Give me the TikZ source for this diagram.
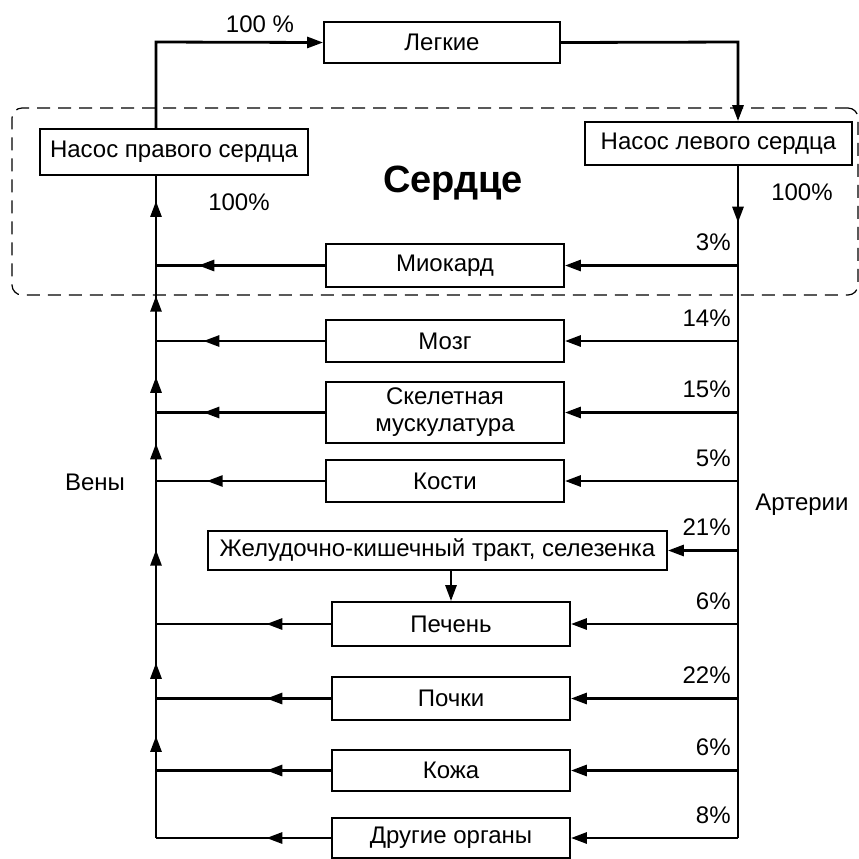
\documentclass[tikz,border=0pt]{standalone}
\usepackage{fontspec}
\setmainfont{Liberation Sans}
\usetikzlibrary{arrows.meta,positioning,decorations.markings}

\begin{document}
\begin{tikzpicture}[x=0.5pt, y=-0.5pt,
  organ/.style={rectangle, draw=black, line width=0.9pt, fill=white,
                minimum width=#1, minimum height=21pt, inner sep=2pt,
                align=center, font=\fontsize{12pt}{13.5pt}\selectfont},
  organ/.default=119pt,
  vessel/.style={line width=1.4pt},
  flow/.style={vessel, -{Triangle[length=8pt,width=5.5pt]}},
  midarrow/.style={vessel, postaction=decorate,
                   decoration={markings, mark=at position #1 with
                   {\arrow{Triangle[length=8pt,width=5.5pt]}}}},
  pct/.style={anchor=south east, inner sep=0pt, xshift=-3.5pt, yshift=7pt,
              font=\fontsize{12pt}{13.5pt}\selectfont},
  lbl/.style={inner sep=0pt, font=\fontsize{12pt}{13.5pt}\selectfont},
  heartbox/.style={draw, dash pattern=on 6.5pt off 4pt, line width=0.6pt,
                   rounded corners=5pt, minimum width=423pt, minimum height=93.5pt}
]
  \useasboundingbox (0,0) rectangle (859,859);

  \node[heartbox] (heart) at (435,201.5) {};
  \node[font=\bfseries\fontsize{19pt}{22pt}\selectfont] (title) at (453,183) {Сердце};

  \node[organ=118pt, minimum height=20.5pt] (lungs) at (442,42.5) {Легкие};
  \node[organ=134pt, minimum height=23pt] (rpump) at (174,152) {Насос правого сердца};
  \node[organ=133.5pt, minimum height=21.5pt] (lpump) at (718.5,143.5) {Насос левого сердца};

  \node[organ, minimum height=21.5pt] (myo)   at (445,265.5) {Миокард};
  \node[organ]                        (brain) at (445,341)   {Мозг};
  \node[organ, minimum height=30.5pt] (skel)  at (445,412.5) {Скелетная\\мускулатура};
  \node[organ]                        (bones) at (445,481)   {Кости};
  \node[organ=229.5pt, minimum height=19.5pt, inner sep=1pt] (gi) at (437.5,550.5) {Желудочно-кишечный тракт, селезенка};
  \node[organ, minimum height=22pt]   (liver)  at (451,624)   {Печень};
  \node[organ, minimum height=21.5pt] (kidney) at (451,698.5) {Почки};
  \node[organ, minimum height=20.5pt] (skin)   at (451,770.5) {Кожа};
  \node[organ, minimum height=20pt]   (other)  at (451,838)   {Другие органы};

  \coordinate (vl) at (156,42);
  \coordinate (ar) at (738,42);

  \node[lbl] (top100)   at (260,24)  {100 \%};
  \node[lbl] (left100)  at (239,202) {100\%};
  \node[lbl] (right100) at (802,192) {100\%};
  \node[lbl] (veins)    at (95,482)  {Вены};
  \node[lbl] (arteries) at (802,505) {Артерии};

  \draw[flow] (rpump.north -| vl) -- (vl) -- (lungs.west);
  \draw[flow] (lungs.east) -- (ar) -- (lpump.north -| ar);
  \draw[midarrow=0.57] (lpump.south -| ar) -- (myo -| ar);
  \draw[vessel] (myo -| ar) -- (other -| ar);

  \draw[midarrow=0.72] (myo -| vl) -- (rpump.south -| vl);
  \foreach \a/\b/\p in {brain/myo/0.6, skel/brain/0.5, bones/skel/0.55,
                        liver/bones/0.52, kidney/liver/0.48, skin/kidney/0.48}
    \draw[midarrow=\p] (\a -| vl) -- (\b -| vl);
  \draw[vessel] (other -| vl) -- (skin -| vl);

  \foreach \o/\p in {myo/0.75, brain/0.72, skel/0.72, bones/0.7,
                     liver/0.37, kidney/0.37, skin/0.37, other/0.37}
    \draw[midarrow=\p] (\o.west) -- (\o -| vl);

  \foreach \o/\t in {myo/3, brain/14, skel/15, bones/5, gi/21,
                     liver/6, kidney/22, skin/6, other/8} {
    \draw[flow] (\o -| ar) -- (\o.east);
    \node[pct] (p-\o) at (\o -| ar) {\t\%};
  }

  \draw[flow] (gi.south -| liver.north) -- (liver.north);
\end{tikzpicture}
\end{document}
